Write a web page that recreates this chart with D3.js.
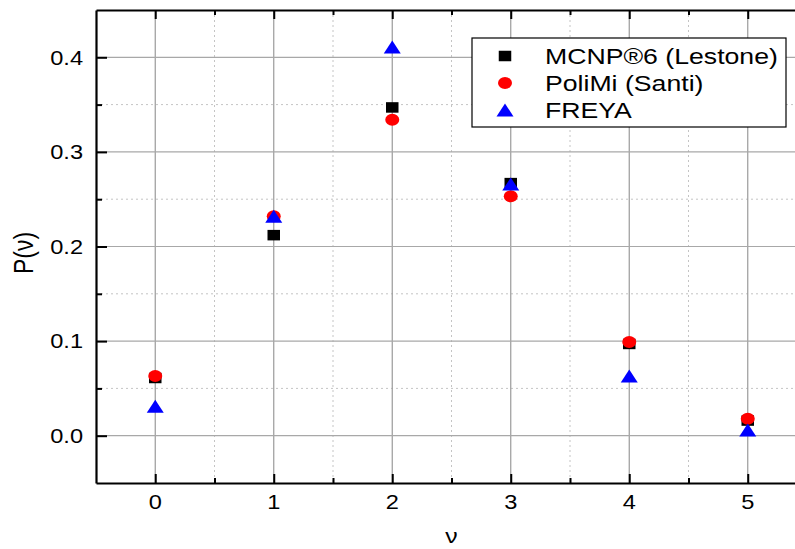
<!DOCTYPE html>
<html>
<head>
<meta charset="utf-8">
<script src="https://cdn.jsdelivr.net/npm/d3@7"></script>
<style>
html,body{margin:0;padding:0;background:#fff;}
svg{display:block;font-family:"Liberation Sans",Arial,sans-serif;}
</style>
</head>
<body>
<svg id="chart" width="795" height="549"></svg>
<script>
const nu = [0, 1, 2, 3, 4, 5];
const mcnp = [0.061, 0.212, 0.347, 0.267, 0.097, 0.016];
const polimi = [0.063, 0.232, 0.334, 0.253, 0.099, 0.018];
const freya = [0.031, 0.232, 0.411, 0.266, 0.063, 0.006];
const seriesNames = ["MCNP\u00AE6 (Lestone)", "PoliMi (Santi)", "FREYA"];
const xTicks = [0, 1, 2, 3, 4, 5];
const yTicks = [0.0, 0.1, 0.2, 0.3, 0.4];
const xMinor = [0.5, 1.5, 2.5, 3.5, 4.5];
const yMinor = [0.05, 0.15, 0.25, 0.35];

const SX = 1.18; // horizontal stretch of the original picture
const svg = d3.select("#chart");
const x = d3.scaleLinear().domain([-0.5, 5.5]).range([96, 807]);
const y = d3.scaleLinear().domain([-0.05, 0.45]).range([483, 10]);
const L = 96, R = 807, T = 10, B = 483;

// grid
const grid = svg.append("g");
grid.selectAll(".vmin").data(xMinor).join("line")
  .attr("x1", d => x(d)).attr("x2", d => x(d)).attr("y1", T).attr("y2", B)
  .attr("stroke", "#c4c4c4").attr("stroke-width", 1).attr("stroke-dasharray", "2,3");
grid.selectAll(".hmin").data(yMinor).join("line")
  .attr("y1", d => y(d)).attr("y2", d => y(d)).attr("x1", L).attr("x2", R)
  .attr("stroke", "#c4c4c4").attr("stroke-width", 1).attr("stroke-dasharray", "2,3");
grid.selectAll(".vmaj").data(xTicks).join("line")
  .attr("x1", d => x(d)).attr("x2", d => x(d)).attr("y1", T).attr("y2", B)
  .attr("stroke", "#9a9a9a").attr("stroke-width", 1.2);
grid.selectAll(".hmaj").data(yTicks).join("line")
  .attr("y1", d => y(d)).attr("y2", d => y(d)).attr("x1", L).attr("x2", R)
  .attr("stroke", "#a8a8a8").attr("stroke-width", 1.2);

// axes (ticks inward, labels drawn separately)
function styleAxis(g) {
  g.selectAll("path.domain").attr("stroke", "#000").attr("stroke-width", 2.2);
  g.selectAll(".tick line").attr("stroke", "#000").attr("stroke-width", 2);
  g.selectAll(".tick text").remove();
}
const axB = svg.append("g").attr("transform", `translate(0,${B})`)
  .call(d3.axisBottom(x).tickValues(xTicks).tickSizeInner(-9).tickSizeOuter(0).tickFormat(""));
svg.append("g").attr("transform", `translate(0,${B})`)
  .call(d3.axisBottom(x).tickValues(xMinor).tickSizeInner(-5).tickSizeOuter(0).tickFormat(""))
  .call(g => g.select("path.domain").remove()).call(styleAxis);
styleAxis(axB);
const axT = svg.append("g").attr("transform", `translate(0,${T})`)
  .call(d3.axisTop(x).tickValues(xTicks).tickSizeInner(-9).tickSizeOuter(0).tickFormat(""));
svg.append("g").attr("transform", `translate(0,${T})`)
  .call(d3.axisTop(x).tickValues(xMinor).tickSizeInner(-5).tickSizeOuter(0).tickFormat(""))
  .call(g => g.select("path.domain").remove()).call(styleAxis);
styleAxis(axT);
const axL = svg.append("g").attr("transform", `translate(${L},0)`)
  .call(d3.axisLeft(y).tickValues(yTicks).tickSizeInner(-11).tickSizeOuter(0).tickFormat(""));
svg.append("g").attr("transform", `translate(${L},0)`)
  .call(d3.axisLeft(y).tickValues(yMinor).tickSizeInner(-6).tickSizeOuter(0).tickFormat(""))
  .call(g => g.select("path.domain").remove()).call(styleAxis);
styleAxis(axL);

// tick labels
svg.append("g").selectAll("text").data(yTicks).join("text")
  .attr("transform", d => `translate(83,${y(d) + 7.2}) scale(${SX},1)`)
  .attr("text-anchor", "end").attr("font-size", 20).attr("fill", "#000")
  .text(d => d3.format(".1f")(d));
svg.append("g").selectAll("text").data(xTicks).join("text")
  .attr("transform", d => `translate(${x(d)},${508.5}) scale(${SX},1)`)
  .attr("text-anchor", "middle").attr("font-size", 20).attr("fill", "#000")
  .text(d => d);

// axis titles
svg.append("text").attr("transform", `translate(${(L + R) / 2},543) scale(${SX},1)`)
  .attr("text-anchor", "middle").attr("font-size", 21).text("\u03BD");
svg.append("text").attr("transform", `translate(33,253) scale(${SX},1) rotate(-90)`)
  .attr("text-anchor", "middle").attr("font-size", 23).text("P(\u03BD)");

// markers
const sq = {w: 12.5, h: 10.5}, ci = {rx: 7, ry: 6}, tri = {w: 17, h: 13};
function triPath(cx, cy) {
  return `M${cx},${cy - tri.h / 2}L${cx + tri.w / 2},${cy + tri.h / 2}L${cx - tri.w / 2},${cy + tri.h / 2}Z`;
}
const pts = svg.append("g");
pts.selectAll("rect").data(nu).join("rect")
  .attr("x", (d, i) => x(d) - sq.w / 2).attr("y", (d, i) => y(mcnp[i]) - sq.h / 2)
  .attr("width", sq.w).attr("height", sq.h).attr("fill", "#000");
pts.selectAll("ellipse").data(nu).join("ellipse")
  .attr("cx", d => x(d)).attr("cy", (d, i) => y(polimi[i]))
  .attr("rx", ci.rx).attr("ry", ci.ry).attr("fill", "#ff0000");
pts.selectAll("path").data(nu).join("path")
  .attr("d", (d, i) => triPath(x(d), y(freya[i]))).attr("fill", "#0000ff");

// legend
const lg = svg.append("g");
lg.append("rect").attr("x", 472).attr("y", 38).attr("width", 314).attr("height", 89)
  .attr("fill", "#fff").attr("stroke", "#000").attr("stroke-width", 1.2);
const rowY = [56, 83, 110];
lg.append("rect").attr("x", 505 - sq.w / 2).attr("y", rowY[0] - sq.h / 2)
  .attr("width", sq.w).attr("height", sq.h).attr("fill", "#000");
lg.append("ellipse").attr("cx", 505).attr("cy", rowY[1]).attr("rx", ci.rx).attr("ry", ci.ry).attr("fill", "#ff0000");
lg.append("path").attr("d", triPath(505, rowY[2])).attr("fill", "#0000ff");
lg.selectAll("text").data(seriesNames).join("text")
  .attr("transform", (d, i) => `translate(545,${rowY[i] + 7.8}) scale(1.24,1)`)
  .attr("font-size", 21.5).attr("fill", "#000").text(d => d);
</script>
</body>
</html>
